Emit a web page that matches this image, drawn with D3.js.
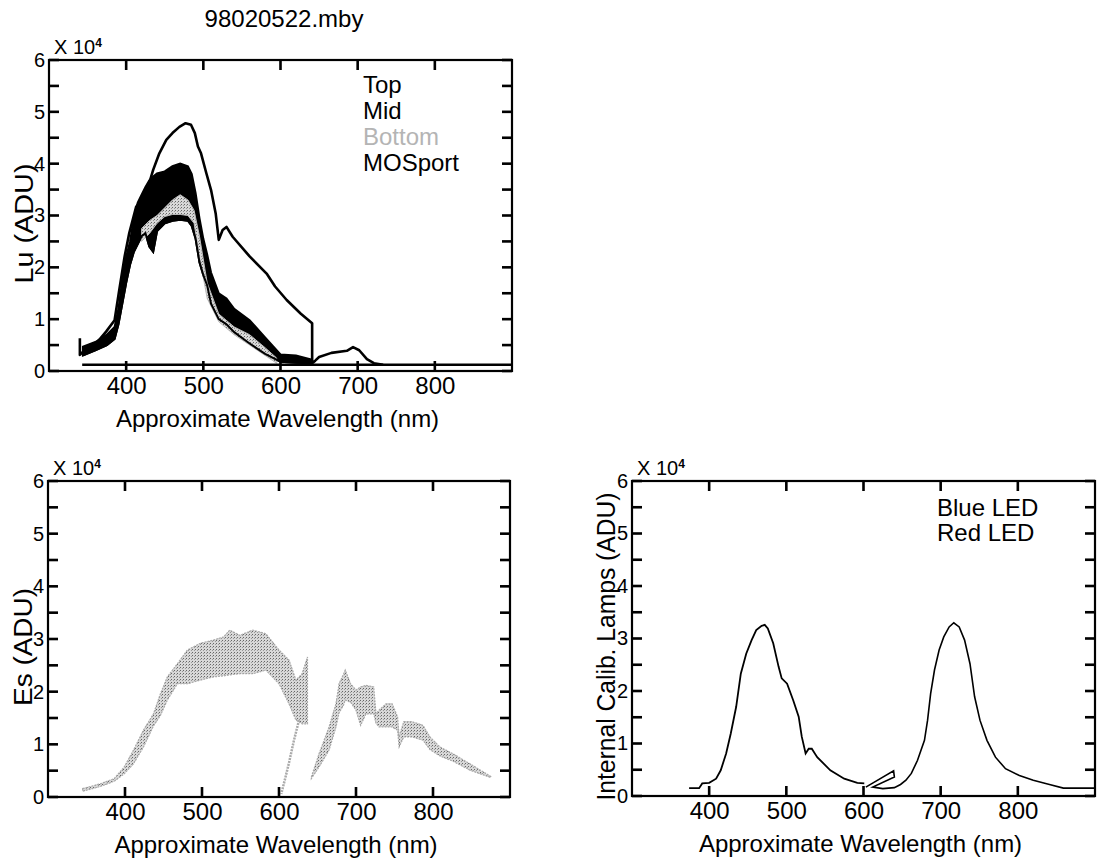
<!DOCTYPE html>
<html>
<head>
<meta charset="utf-8">
<script src="https://cdn.jsdelivr.net/npm/d3@7"></script>
<style>
  body { margin: 0; background: #fff; }
  text { font-family: "Liberation Sans", Arial, sans-serif; }
</style>
</head>
<body>
<div id="chart"></div>
<script>
// ---- shared axis values ----
var xTicks = [400, 500, 600, 700, 800];
var yTicks = [0, 0.5, 1, 1.5, 2, 2.5, 3, 3.5, 4, 4.5, 5, 5.5, 6];

// ---- Lu panel (x 10^4 ADU) ----
var luLegend = ["Top", "Mid", "Bottom", "MOSport"];
var luLegendColors = ["#000", "#000", "#b4b4b4", "#000"];

var topWl = [340, 340, 344, 361, 374, 385, 391, 398, 404, 413, 426, 435, 443, 452, 460, 469, 477, 484, 489, 493, 497, 504, 510, 516, 520, 525, 530, 538, 560, 582, 593, 608, 626, 641, 641, 645, 650, 666, 686, 694, 702, 712, 721, 733];
var topLu = [0.63, 0.31, 0.37, 0.53, 0.76, 0.98, 1.56, 2.21, 2.66, 3.17, 3.43, 3.88, 4.2, 4.46, 4.59, 4.71, 4.78, 4.75, 4.59, 4.33, 4.2, 3.81, 3.49, 3.04, 2.53, 2.72, 2.78, 2.59, 2.21, 1.88, 1.63, 1.37, 1.11, 0.92, 0.15, 0.2, 0.27, 0.35, 0.39, 0.46, 0.4, 0.23, 0.15, 0.12];

var midWl = [344, 360, 375, 385, 390, 395, 400, 405, 410, 415, 420, 425, 430, 435, 440, 450, 460, 470, 480, 485, 490, 495, 500, 505, 510, 520, 530, 540, 560, 580, 600, 620, 640];
var midUpper = [0.47, 0.56, 0.7, 0.85, 1.2, 1.76, 2.2, 2.5, 2.95, 3.25, 3.4, 3.55, 3.68, 3.75, 3.81, 3.85, 3.95, 4.0, 3.95, 3.8, 3.43, 2.95, 2.55, 2.25, 1.9, 1.5, 1.4, 1.2, 0.98, 0.65, 0.32, 0.3, 0.22];
var midLower = [0.3, 0.4, 0.5, 0.62, 0.9, 1.3, 1.7, 2.05, 2.3, 2.45, 2.6, 2.66, 2.4, 2.3, 2.7, 2.85, 2.9, 2.92, 2.9, 2.8, 2.55, 2.1, 1.85, 1.65, 1.3, 1.0, 0.9, 0.75, 0.53, 0.33, 0.18, 0.16, 0.15];

var bottomWl = [420, 430, 440, 450, 460, 470, 480, 488, 495, 505, 520, 540, 560, 580, 595];
var bottomUpper = [2.75, 2.9, 3.0, 3.15, 3.3, 3.4, 3.3, 3.1, 2.6, 1.7, 1.1, 0.85, 0.7, 0.45, 0.25];
var bottomLower = [2.5, 2.65, 2.85, 2.98, 3.02, 3.02, 3.0, 2.85, 2.2, 1.4, 0.95, 0.7, 0.5, 0.3, 0.15];

var mosWl = [343, 900];
var mosLu = [0.12, 0.12];

// ---- Es panel ----
var esWl1 = [345, 368, 386, 399, 411, 424, 437, 446, 455, 468, 481, 498, 515, 528, 536, 549, 566, 583, 600, 613, 622, 630, 637];
var esUpper1 = [0.16, 0.25, 0.35, 0.57, 0.89, 1.27, 1.58, 1.96, 2.28, 2.53, 2.79, 2.92, 2.98, 3.04, 3.17, 3.07, 3.17, 3.1, 2.79, 2.6, 2.22, 2.34, 2.66];
var esLower1 = [0.11, 0.2, 0.3, 0.44, 0.63, 0.95, 1.35, 1.55, 1.84, 2.15, 2.15, 2.22, 2.28, 2.3, 2.32, 2.34, 2.34, 2.41, 2.15, 1.77, 1.46, 1.39, 1.39];
var esFoldWl = [626, 619, 613, 608, 605, 603];
var esFoldVal = [1.46, 1.05, 0.65, 0.35, 0.18, 0.06];
var esWl2 = [642, 652, 665, 674, 678, 684, 686, 693, 700, 706, 713, 723, 726, 730, 739, 747, 754, 756, 762, 773, 787, 796, 809, 826, 848, 875];
var esUpper2 = [0.38, 0.82, 1.33, 1.77, 2.15, 2.34, 2.41, 2.15, 2.03, 2.09, 2.12, 2.09, 1.58, 1.65, 1.77, 1.77, 1.52, 1.14, 1.43, 1.43, 1.36, 1.14, 0.95, 0.82, 0.63, 0.39];
var esLower2 = [0.35, 0.57, 0.89, 1.33, 1.6, 1.75, 1.84, 1.8, 1.65, 1.36, 1.58, 1.58, 1.4, 1.33, 1.33, 1.33, 1.27, 0.95, 1.14, 1.14, 1.08, 0.9, 0.78, 0.68, 0.51, 0.37];

// ---- Internal calibration lamps ----
var ledLegend = ["Blue LED", "Red LED"];
var blueWl = [374, 387, 391, 400, 409, 415, 422, 428, 435, 441, 448, 455, 461, 468, 472, 476, 483, 490, 494, 501, 509, 516, 520, 525, 529, 533, 540, 557, 575, 592, 601];
var blueVal = [0.15, 0.15, 0.24, 0.25, 0.33, 0.49, 0.81, 1.19, 1.7, 2.33, 2.71, 2.97, 3.16, 3.24, 3.26, 3.19, 2.91, 2.46, 2.24, 2.14, 1.82, 1.51, 1.13, 0.81, 0.9, 0.9, 0.74, 0.49, 0.33, 0.25, 0.24];
var redWl = [603, 639, 640, 612, 625, 640, 648, 655, 662, 670, 679, 683, 687, 692, 698, 704, 711, 717, 724, 731, 738, 744, 751, 760, 771, 784, 802, 820, 841, 859, 890, 900];
var redVal = [0.17, 0.48, 0.36, 0.17, 0.14, 0.16, 0.22, 0.3, 0.43, 0.68, 1.06, 1.44, 1.95, 2.4, 2.78, 3.03, 3.22, 3.3, 3.22, 2.97, 2.52, 1.89, 1.44, 1.06, 0.74, 0.52, 0.39, 0.3, 0.22, 0.15, 0.15, 0.15];

var svg = d3.select("#chart")
  .append("svg")
  .attr("width", 1098)
  .attr("height", 863);

// speckled grey fill for the noisy spectra
var defs = svg.append("defs");
var pat = defs.append("pattern")
  .attr("id", "speckle")
  .attr("width", 3).attr("height", 3)
  .attr("patternUnits", "userSpaceOnUse");
pat.append("rect").attr("width", 3).attr("height", 3).attr("fill", "#d8d8d8");
pat.append("rect").attr("x", 0).attr("y", 0).attr("width", 1).attr("height", 1).attr("fill", "#666");
pat.append("rect").attr("x", 2).attr("y", 1).attr("width", 1).attr("height", 1).attr("fill", "#999");

var panelId = 0;
function makePanel(left, top, width, height) {
  panelId++;
  var g = svg.append("g").attr("transform", `translate(${left}, ${top})`);
  var x = d3.scaleLinear().domain([300, 900]).range([0, width]);
  var y = d3.scaleLinear().domain([0, 6]).range([height, 0]);
  defs.append("clipPath").attr("id", "clip" + panelId)
    .append("rect").attr("width", width).attr("height", height);
  var plot = g.append("g").attr("clip-path", `url(#clip${panelId})`);
  return { g: g, plot: plot, x: x, y: y, width: width, height: height };
}

function lineOf(p, wl, vals) {
  return d3.line().x((d, i) => p.x(wl[i])).y(d => p.y(d))(vals);
}
function areaOf(p, wl, lo, hi) {
  return d3.area().x((d, i) => p.x(wl[i])).y0((d, i) => p.y(lo[i])).y1(d => p.y(d))(hi);
}

function drawAxes(p, yLabel, yLabelLen, yLabelX) {
  var font = '"Liberation Sans", Arial, sans-serif';

  // tick labels from d3 axes
  var bottom = p.g.append("g")
    .attr("transform", `translate(0, ${p.height})`)
    .call(d3.axisBottom(p.x).tickValues(xTicks).tickSize(0).tickPadding(6));
  bottom.attr("font-family", font).attr("font-size", 24);
  bottom.select(".domain").remove();

  var left = p.g.append("g")
    .call(d3.axisLeft(p.y).tickValues(yTicks).tickSize(0).tickPadding(4)
      .tickFormat(d => d % 1 === 0 ? d : ""));
  left.attr("font-family", font).attr("font-size", 20);
  left.select(".domain").remove();

  // frame
  p.g.append("rect")
    .attr("width", p.width).attr("height", p.height)
    .attr("fill", "none").attr("stroke", "#000").attr("stroke-width", 2.2);

  // inward tick marks
  var tk = 10;
  var marks = p.g.append("g").attr("fill", "#000");
  marks.selectAll(".tb").data(xTicks).enter().append("rect")
    .attr("x", d => p.x(d) - 1.3).attr("y", p.height - tk).attr("width", 2.6).attr("height", tk);
  marks.selectAll(".tt").data(xTicks).enter().append("rect")
    .attr("x", d => p.x(d) - 1.3).attr("y", 0).attr("width", 2.6).attr("height", tk);
  marks.selectAll(".tl").data(yTicks).enter().append("rect")
    .attr("x", 0).attr("y", d => p.y(d) - 1.3).attr("width", tk).attr("height", 2.6);
  marks.selectAll(".tr").data(yTicks).enter().append("rect")
    .attr("x", p.width - tk).attr("y", d => p.y(d) - 1.3).attr("width", tk).attr("height", 2.6);

  // X 10^4 multiplier
  var mult = p.g.append("text").attr("x", 5).attr("y", -6).attr("font-size", 20).text("X 10");
  mult.append("tspan").attr("dy", -7).attr("font-size", 12).attr("font-weight", "bold").text("4");

  p.g.append("text")
    .attr("x", p.width / 2 - 3)
    .attr("y", p.height + 56)
    .attr("text-anchor", "middle")
    .attr("font-size", 24)
    .text("Approximate Wavelength (nm)");

  p.g.append("text")
    .attr("transform", `translate(${yLabelX}, ${p.height / 2 + 8}) rotate(-90)`)
    .attr("text-anchor", "middle")
    .attr("font-size", 25)
    .attr("textLength", yLabelLen)
    .attr("lengthAdjust", "spacingAndGlyphs")
    .text(yLabel);
}

// ================= Lu panel =================
var pLu = makePanel(49, 60, 463, 311);

pLu.plot.append("path")
  .attr("d", areaOf(pLu, midWl, midLower, midUpper))
  .attr("fill", "#000").attr("stroke", "#000").attr("stroke-width", 2);

pLu.plot.append("path")
  .attr("d", areaOf(pLu, bottomWl, bottomLower, bottomUpper))
  .attr("fill", "url(#speckle)").attr("stroke", "#bbb").attr("stroke-width", 1);

pLu.plot.append("path")
  .attr("d", lineOf(pLu, midWl, midLower))
  .attr("fill", "none").attr("stroke", "#000").attr("stroke-width", 2);

pLu.plot.append("path")
  .attr("d", lineOf(pLu, mosWl, mosLu))
  .attr("fill", "none").attr("stroke", "#000").attr("stroke-width", 2.5);

pLu.plot.append("path")
  .attr("d", lineOf(pLu, topWl, topLu))
  .attr("fill", "none").attr("stroke", "#000").attr("stroke-width", 2.6)
  .attr("stroke-linejoin", "round");

drawAxes(pLu, "Lu (ADU)", 120, -16);

pLu.g.selectAll(".legend")
  .data(luLegend)
  .enter()
  .append("text")
  .attr("class", "legend")
  .attr("x", 314)
  .attr("y", (d, i) => 33 + i * 26)
  .attr("font-size", 24)
  .attr("fill", (d, i) => luLegendColors[i])
  .text(d => d);

svg.append("text")
  .attr("x", 284).attr("y", 27)
  .attr("text-anchor", "middle")
  .attr("font-size", 24)
  .text("98020522.mby");

// ================= Es panel =================
var pEs = makePanel(48, 481, 462, 316);

[[esWl1, esLower1, esUpper1], [esWl2, esLower2, esUpper2]].forEach(s => {
  pEs.plot.append("path")
    .attr("d", areaOf(pEs, s[0], s[1], s[2]))
    .attr("fill", "url(#speckle)")
    .attr("stroke", "#aaa").attr("stroke-width", 1.2)
    .attr("stroke-dasharray", "2,1");
});

pEs.plot.append("path")
  .attr("d", lineOf(pEs, esFoldWl, esFoldVal))
  .attr("fill", "none").attr("stroke", "#aaa").attr("stroke-width", 2.5)
  .attr("stroke-dasharray", "2,1");

drawAxes(pEs, "Es (ADU)", 118, -16);

// ================= Internal calibration lamps =================
var pLed = makePanel(632, 481, 463, 315);

pLed.plot.append("path")
  .attr("d", lineOf(pLed, blueWl, blueVal))
  .attr("fill", "none").attr("stroke", "#000").attr("stroke-width", 1.8);

pLed.plot.append("path")
  .attr("d", lineOf(pLed, redWl, redVal))
  .attr("fill", "none").attr("stroke", "#000").attr("stroke-width", 1.6);

drawAxes(pLed, "Internal Calib. Lamps (ADU)", 308, -17);

pLed.g.selectAll(".legend")
  .data(ledLegend)
  .enter()
  .append("text")
  .attr("class", "legend")
  .attr("x", 305)
  .attr("y", (d, i) => 35 + i * 25)
  .attr("font-size", 24)
  .text(d => d);
</script>
</body>
</html>
